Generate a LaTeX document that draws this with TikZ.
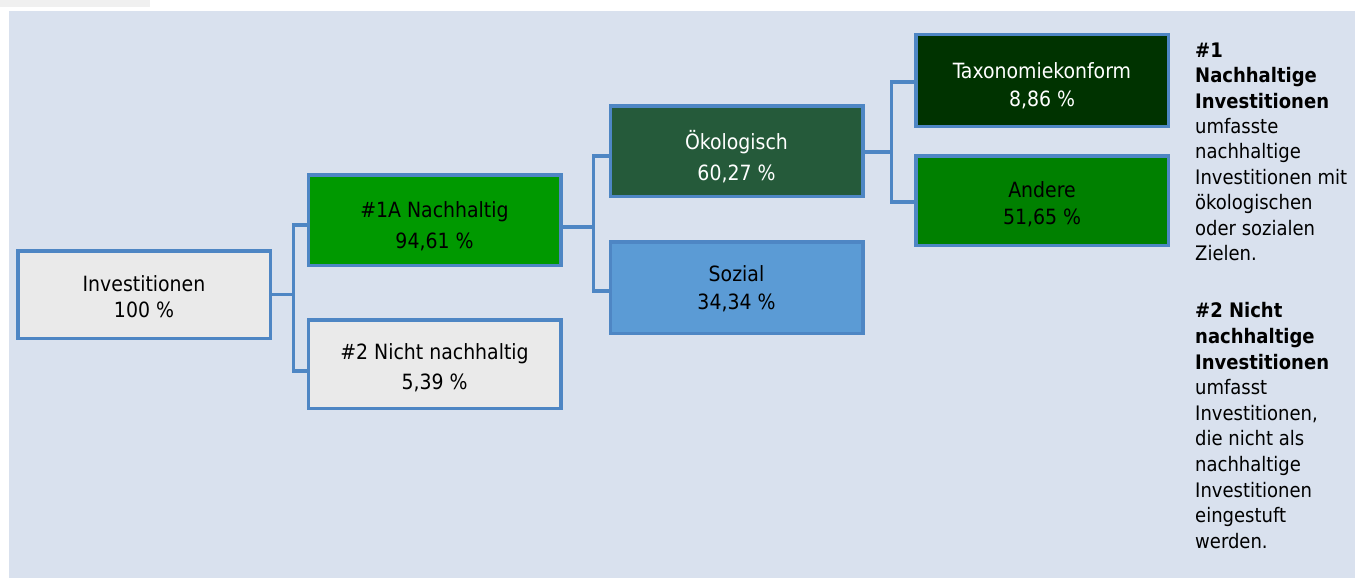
\documentclass[tikz,border=0pt]{standalone}
\usepackage{fontspec}
\setmainfont{DejaVu Sans Condensed}
\begin{document}
\begin{tikzpicture}[x=1pt,y=-1pt,
  box/.style={draw=bordc, line width=3.5pt, minimum width=252.5pt, inner sep=0pt},
  txt/.style={align=center, inner sep=0pt, font=\fontsize{21}{27}\selectfont},
  conn/.style={draw=bordc, line width=3.5pt, line join=miter},
  note/.style={anchor=north west, inner sep=0pt, align=left,
    font=\fontsize{20}{25.4}\selectfont}]
\definecolor{bgc}{HTML}{D9E1EE}
\definecolor{stripc}{HTML}{F0F0F0}
\definecolor{bordc}{HTML}{4E86C4}
\definecolor{invc}{HTML}{EAEAEA}
\definecolor{nac}{HTML}{009900}
\definecolor{oekc}{HTML}{255A3A}
\definecolor{sozc}{HTML}{5B9BD5}
\definecolor{taxc}{HTML}{003300}
\definecolor{andc}{HTML}{008000}
\useasboundingbox (0,0) rectangle (1355,578);
\fill[stripc] (0,0) rectangle (150,7);
\fill[bgc] (9,11) rectangle (1355,578);

\node[box, fill=invc, minimum height=87.5pt,
  label={[txt, yshift=-2pt]center:{Investitionen\\[-1pt]100 \%}}] (inv) at (144,294.5) {};
\node[box, fill=nac, minimum height=90.5pt,
  label={[txt, yshift=-6.5pt]center:{\#1A Nachhaltig\\[4pt]94,61 \%}}] (n1a) at (434.5,220) {};
\node[box, fill=invc, minimum height=88.5pt,
  label={[txt, yshift=-4pt]center:{\#2 Nicht nachhaltig\\[3pt]5,39 \%}}] (n2) at (434.5,364) {};
\node[box, fill=oekc, minimum height=90.5pt,
  label={[txt, text=white, yshift=-5.5pt]center:{Ökologisch\\[4pt]60,27 \%}}] (oek) at (736.5,151) {};
\node[box, fill=sozc, minimum height=91.5pt,
  label={[txt, yshift=-1.5pt]center:{Sozial\\[1pt]34,34 \%}}] (soz) at (736.5,287.5) {};
\node[box, fill=taxc, minimum height=91.5pt,
  label={[txt, text=white, yshift=-5.5pt]center:{Taxonomiekonform\\[1pt]8,86 \%}}] (tax) at (1042,80.5) {};
\node[box, fill=andc, minimum height=89.5pt,
  label={[txt, yshift=-4pt]center:{Andere\\51,65 \%}}] (and) at (1042,200.5) {};

\draw[conn] (inv.east) -- ++(21.5,0) coordinate (j1);
\draw[conn] ([yshift=-5pt]n1a.west) -| (j1) |- ([yshift=-7pt]n2.west);
\draw[conn] ([yshift=-7pt]n1a.east) -- ++(31,0) coordinate (j2);
\draw[conn] ([yshift=-5pt]oek.west) -| (j2) |- ([yshift=-3.5pt]soz.west);
\draw[conn] ([yshift=-1pt]oek.east) -- ++(27,0) coordinate (j3);
\draw[conn] ([yshift=-1.5pt]tax.west) -| (j3) |- ([yshift=-1.5pt]and.west);

\node[note] (note1) at (1195,42.5) {\textbf{\#1}\\\textbf{Nachhaltige}\\\textbf{Investitionen}\\umfasste\\nachhaltige\\Investitionen mit\\ökologischen\\oder sozialen\\Zielen.};
\node[note, font=\fontsize{20}{25.6}\selectfont] (note2) at (1195,302.5) {\textbf{\#2 Nicht}\\\textbf{nachhaltige}\\\textbf{Investitionen}\\umfasst\\Investitionen,\\die nicht als\\nachhaltige\\Investitionen\\eingestuft\\werden.};
\end{tikzpicture}
\end{document}
